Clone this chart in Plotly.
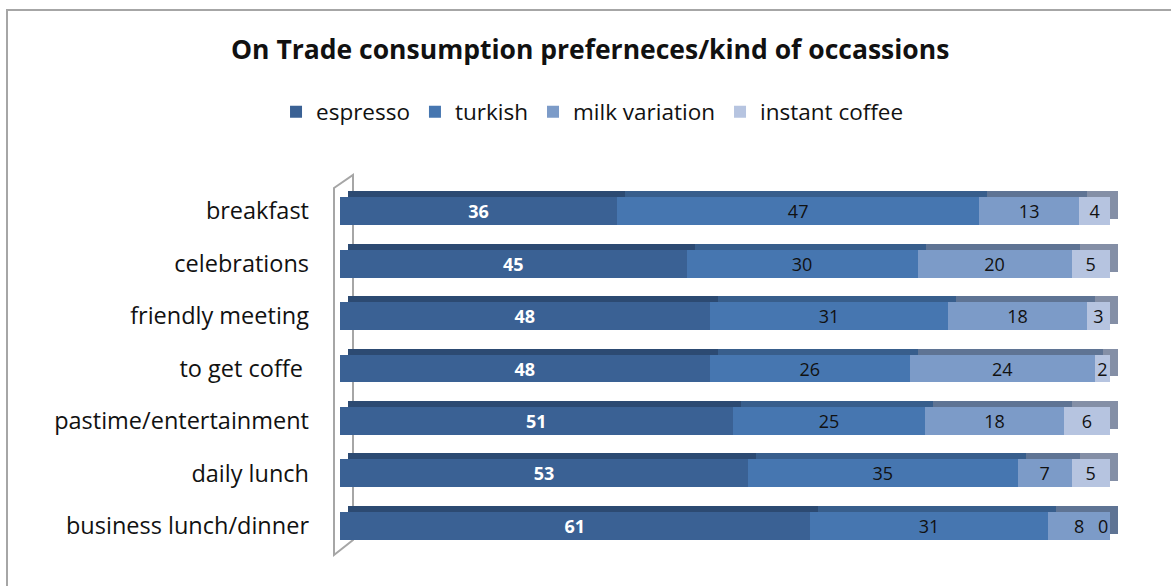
import plotly.graph_objects as go

categories = ["breakfast", "celebrations", "friendly meeting", "to get coffe ",
              "pastime/entertainment", "daily lunch", "business lunch/dinner"]
espresso = [36, 45, 48, 48, 51, 53, 61]
turkish = [47, 30, 31, 26, 25, 35, 31]
milk_variation = [13, 20, 18, 24, 18, 7, 8]
instant_coffee = [4, 5, 3, 2, 6, 5, 0]

series = [
    ("espresso", espresso, "#3A6194", "#2C4A72", "white", "bold"),
    ("turkish", turkish, "#4676B0", "#385E8C", "#111111", "normal"),
    ("milk variation", milk_variation, "#7C9BC8", "#5F7494", "#111111", "normal"),
    ("instant coffee", instant_coffee, "#B6C4E0", "#848FA6", "#111111", "normal"),
]

W, H = 1171, 586
L, R, T, B = 340, 40, 185, 34
pw, ph = W - L - R, H - T - B
bar_px = 770                       # pixel length of the 100% bar
unit = bar_px / 100.0              # pixels per value unit
xmax = pw / unit
dx_px, dy_px = 8, 6
x_shift = dx_px / unit
y_shift = dy_px / (ph / 7)

FONT = "Open Sans"
fig = go.Figure()

# depth (3D) faces behind the fronts
for name, vals, col, dark, tcol, tw in series:
    fig.add_trace(go.Bar(
        y=categories, x=vals, orientation="h", name=name, showlegend=False,
        marker=dict(color=dark, line=dict(width=0)), width=0.53,
        hoverinfo="skip", xaxis="x", yaxis="y"))

for name, vals, col, dark, tcol, tw in series:
    fig.add_trace(go.Bar(
        y=categories, x=vals, orientation="h", name=name,
        marker=dict(color=col, line=dict(width=0)), width=0.53,
        text=[str(v) for v in vals], textposition="inside", textangle=0,
        insidetextanchor="middle", constraintext="none",
        textfont=dict(color=tcol, size=18, family=FONT, weight=tw),
        xaxis="x2", yaxis="y2"))

# label for zero-width segment
fig.add_annotation(x=100, y=categories[-1], xref="x2", yref="y2",
                   text=str(instant_coffee[-1]), showarrow=False,
                   xanchor="right", xshift=0,
                   font=dict(size=18, family=FONT, color="#111111"))

def px_x(p):
    return (p - L) / pw

def px_y(p):
    return (H - B - p) / ph

shapes = [
    dict(type="rect", xref="paper", yref="paper",
         x0=px_x(7), x1=px_x(1200), y0=px_y(620), y1=px_y(10),
         line=dict(color="#A6A6A6", width=2), fillcolor="rgba(0,0,0,0)", layer="below"),
    dict(type="path", xref="paper", yref="paper",
         path=(f"M {px_x(334)},{px_y(188)} L {px_x(353)},{px_y(175)} "
               f"L {px_x(353)},{px_y(540)} L {px_x(334)},{px_y(555)} Z"),
         line=dict(color="#A6A6A6", width=2), fillcolor="white", layer="below"),
]

fig.update_layout(
    width=W, height=H, margin=dict(l=L, r=R, t=T, b=B),
    paper_bgcolor="white", plot_bgcolor="rgba(0,0,0,0)",
    barmode="stack", bargap=0.47,
    uniformtext=dict(minsize=18, mode="show"),
    font=dict(family=FONT, color="#111111"),
    title=dict(text="<b>On Trade consumption preferneces/kind of occassions</b>",
               x=0.504, xref="container", xanchor="center",
               y=1 - 50 / H, yref="container", yanchor="middle",
               font=dict(size=26.5, family=FONT, color="#111111")),
    legend=dict(orientation="h", x=0.506, xref="container", xanchor="center",
                y=1 - 112 / H, yref="container", yanchor="middle",
                font=dict(size=22.5, family=FONT, color="#111111"),
                traceorder="normal", itemwidth=30),
    xaxis=dict(range=[-x_shift, xmax - x_shift], visible=False, fixedrange=True),
    yaxis=dict(type="category", categoryorder="array", categoryarray=categories,
               range=[6.5 + y_shift, -0.5 + y_shift], visible=False),
    xaxis2=dict(range=[0, xmax], overlaying="x", visible=False),
    yaxis2=dict(type="category", categoryorder="array", categoryarray=categories,
                range=[6.5, -0.5], overlaying="y", side="left",
                showgrid=False, zeroline=False, showline=False, ticks="",
                ticklabelstandoff=30,
                tickfont=dict(size=23.5, family=FONT, color="#111111")),
    shapes=shapes,
)

fig.write_html("out.html")
